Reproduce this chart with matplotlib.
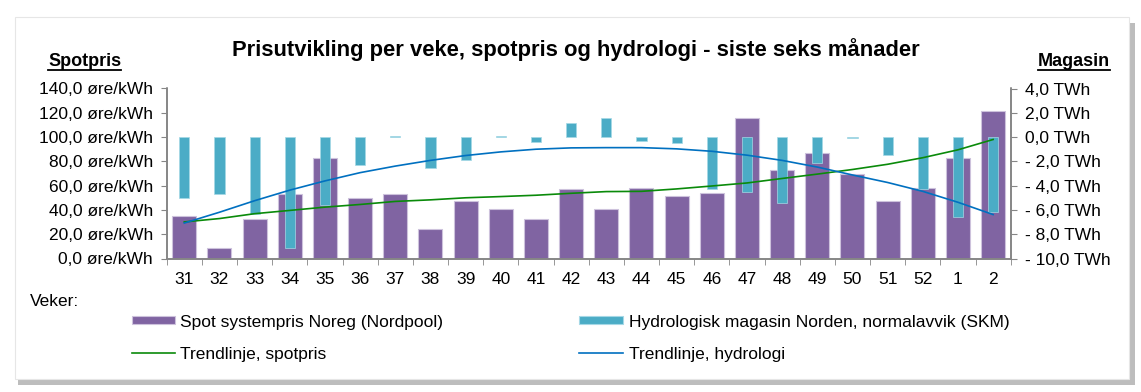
import numpy as np
import matplotlib.pyplot as plt
from matplotlib.patches import Rectangle
from matplotlib.lines import Line2D

plt.rcParams['font.family'] = ['Liberation Sans', 'DejaVu Sans']

# veker
weeks = ['31', '32', '33', '34', '35', '36', '37', '38', '39', '40', '41', '42',
         '43', '44', '45', '46', '47', '48', '49', '50', '51', '52', '1', '2']

# spot systempris (øre/kWh)
spot = [35.3, 8.4, 32.8, 52.9, 82.5, 50.2, 52.9, 24.4, 47.7, 41.0, 32.8, 57.0,
        41.0, 58.1, 51.5, 54.3, 116.1, 73.0, 86.8, 69.2, 47.5, 58.1, 82.5, 121.5]

# magasin normalavvik (TWh)
hydro = [-5.0, -4.7, -6.3, -9.1, -5.6, -2.3, 0.1, -2.55, -1.9, 0.1, -0.4, 1.2,
         1.6, -0.35, -0.5, -4.3, -4.55, -5.4, -2.1, -0.1, -1.45, -4.3, -6.6, -6.2]

# trendlinjer lest av figuren
spot_trend = [30.1, 32.9, 36.9, 39.6, 42.3, 44.5, 47.0, 48.3, 50.0, 51.0, 52.1, 53.7,
              55.1, 55.3, 57.3, 59.7, 62.2, 65.9, 69.5, 73.3, 77.6, 83.0, 89.5, 98.0]
hydro_trend = [-7.08, -6.19, -5.24, -4.37, -3.61, -2.93, -2.39, -1.92, -1.52, -1.22, -1.0, -0.89,
               -0.87, -0.87, -0.97, -1.17, -1.49, -1.92, -2.47, -3.12, -3.74, -4.47, -5.37, -6.38]

c_spot = '#8064A2'
c_hydro = '#4BACC6'
c_spot_tr = '#0A8A0A'
c_hydro_tr = '#0070C0'
grey = '#868686'
fs = 12.5

W, H = 1141, 392
fig = plt.figure(figsize=(W / 100, H / 100), dpi=100)

# ramme med skugge
fig.patches.append(Rectangle((18 / W, 1 - 385 / H), 1117 / W, 362 / H, transform=fig.transFigure,
                             facecolor='#BDBDBD', edgecolor='none', zorder=-3))
fig.patches.append(Rectangle((15 / W, 1 - 379 / H), 1114 / W, 362 / H, transform=fig.transFigure,
                             facecolor='white', edgecolor='#E6E6E6', linewidth=0.8, zorder=-2))

ax = fig.add_axes([166.7 / W, 1 - 258.5 / H, 844 / W, 170 / H])
ax.set_facecolor('none')
ax2 = ax.twinx()

x = np.arange(len(weeks))
ax.bar(x, spot, width=0.68, color=c_spot, edgecolor='#CDC2DC', linewidth=0.8, zorder=2)
ax2.bar(x, hydro, width=0.29, color=c_hydro, edgecolor='#A5D8E6', linewidth=0.5, zorder=3)
ax2.plot(x, spot_trend, color=c_spot_tr, linewidth=1.2, transform=ax.transData, zorder=4)
ax2.plot(x, hydro_trend, color=c_hydro_tr, linewidth=1.2, zorder=4)

ax.set_xlim(-0.5, len(weeks) - 0.5)
ax.set_ylim(0, 140)
ax2.set_ylim(-10, 4)

ax.set_yticks(np.arange(0, 141, 20))
ax.set_yticklabels([f"{v:.1f}".replace('.', ',') + " øre/kWh" for v in np.arange(0, 141, 20)])
r_ticks = np.arange(-10, 5, 2)
ax2.set_yticks(r_ticks)
ax2.set_yticklabels([(f"{v:.1f} TWh" if v >= 0 else f"- {abs(v):.1f} TWh").replace('.', ',')
                     for v in r_ticks])

ax.set_xticks(x)
ax.set_xticklabels(weeks)
ax.set_xticks(np.arange(-0.5, len(weeks), 1), minor=True)
ax.tick_params(axis='x', which='major', length=0, pad=10, labelsize=fs)
ax.tick_params(axis='x', which='minor', length=4, color=grey, direction='out')
ax.tick_params(axis='y', length=4, color=grey, labelsize=fs, pad=6)
ax2.tick_params(axis='y', length=4, color=grey, labelsize=fs, pad=6)

for a in (ax, ax2):
    a.spines['top'].set_visible(False)
    for s in ('left', 'right', 'bottom'):
        a.spines[s].set_color(grey)
        a.spines[s].set_linewidth(1.2)

# titlar
fig.text(576 / W, 1 - 56 / H, "Prisutvikling per veke, spotpris og hydrologi - siste seks månader",
         ha='center', va='baseline', fontsize=15.8, fontweight='bold')
t1 = fig.text(48 / W, 1 - 66 / H, "Spotpris", ha='left', va='baseline', fontsize=13, fontweight='bold')
t2 = fig.text(1110 / W, 1 - 66 / H, "Magasin", ha='right', va='baseline', fontsize=13, fontweight='bold')
fig.canvas.draw()
rend = fig.canvas.get_renderer()
for t in (t1, t2):
    bb = t.get_window_extent(rend).transformed(fig.transFigure.inverted())
    fig.lines.append(Line2D([bb.x0, bb.x1], [1 - 70 / H] * 2, transform=fig.transFigure,
                            color='black', linewidth=1.3))

fig.text(30 / W, 1 - 301 / H, "Veker:", ha='left', va='center', fontsize=fs)

# forklaring
fig.patches.append(Rectangle((132 / W, 1 - 324 / H), 43 / W, 8 / H, transform=fig.transFigure,
                             facecolor=c_spot, edgecolor='#CDC2DC', linewidth=0.8))
fig.text(180 / W, 1 - 322 / H, "Spot systempris Noreg (Nordpool)", ha='left', va='center', fontsize=fs)
fig.patches.append(Rectangle((579 / W, 1 - 324 / H), 44 / W, 8 / H, transform=fig.transFigure,
                             facecolor=c_hydro, edgecolor='#A5D8E6', linewidth=0.8))
fig.text(629 / W, 1 - 322 / H, "Hydrologisk magasin Norden, normalavvik (SKM)", ha='left', va='center',
         fontsize=fs)
fig.lines.append(Line2D([132 / W, 175 / W], [1 - 353 / H] * 2, transform=fig.transFigure,
                        color=c_spot_tr, linewidth=1.2))
fig.text(180 / W, 1 - 354 / H, "Trendlinje, spotpris", ha='left', va='center', fontsize=fs)
fig.lines.append(Line2D([579 / W, 623 / W], [1 - 353 / H] * 2, transform=fig.transFigure,
                        color=c_hydro_tr, linewidth=1.2))
fig.text(629 / W, 1 - 354 / H, "Trendlinje, hydrologi", ha='left', va='center', fontsize=fs)

fig.savefig('out.png', dpi=100)
